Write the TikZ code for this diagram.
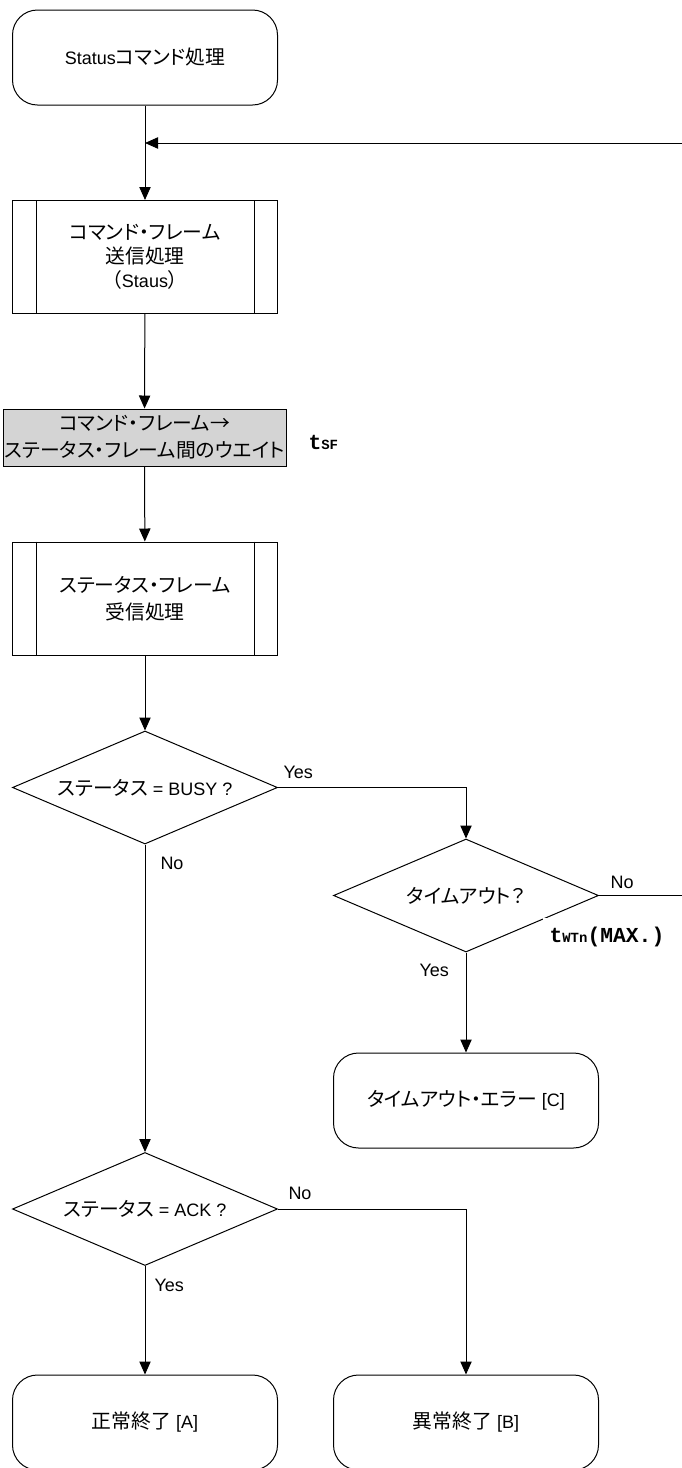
\documentclass[tikz,border=0pt]{standalone}
\usepackage{fontspec}
\setmainfont{Liberation Sans}
\newfontfamily\jp[RawFeature=+palt,Scale=1.1]{Noto Sans CJK JP}
\newfontfamily\mono{Liberation Mono}
\usetikzlibrary{shapes.geometric,arrows.meta}
\definecolor{waitgray}{RGB}{212,212,212}
% small index letters after a timing symbol
\newcommand\tidx[1]{{\fontsize{10.5}{10.5}\selectfont #1}}

\begin{document}
\begin{tikzpicture}[x=0.75pt,y=-0.75pt,
  font=\fontsize{13.5}{18}\selectfont,
  line width=0.75pt,
  flow/.style={-{Triangle[length=9.75pt,width=8.5pt]}},
  term/.style={draw, rounded corners=18.75pt, minimum width=198.75pt,
    minimum height=71.25pt, align=center, inner sep=0pt},
  proc/.style={draw, minimum width=198.75pt, minimum height=84.75pt,
    align=center, inner sep=0pt},
  waitbox/.style={draw, fill=waitgray, minimum width=212.25pt,
    minimum height=42.75pt, align=center, inner sep=0pt,
    font=\fontsize{13.5}{20}\selectfont},
  dec/.style={draw, diamond, aspect=2.35, minimum width=198.75pt,
    minimum height=84.75pt, inner sep=0pt},
  lbl/.style={inner sep=0pt, anchor=west},
  timing/.style={inner sep=0pt, anchor=west, font=\mono\bfseries\fontsize{16}{16}\selectfont}
]
\useasboundingbox (0,0) rectangle (682,1468);

% main column
\node[term] (start) at (145,57.5) {Status{\jp コマンド処理}};
\coordinate (merge) at (145,143);
\node[proc] (send) at (145,257) {{\jp コマンド・フレーム}\\{\jp 送信処理}\\{\jp （}Staus{\jp ）}};
\draw ([xshift=18pt]send.north west) -- ([xshift=18pt]send.south west);
\draw ([xshift=-18pt]send.north east) -- ([xshift=-18pt]send.south east);

\node[waitbox] (wait) at (144.5,437.5) {{\jp コマンド・フレーム→}\\{\jp ステータス・フレーム間のウエイト}};
\node[timing] (tsf) at (308,442) {t\tidx{SF}};

\node[proc, font=\fontsize{13.5}{20}\selectfont] (recv) at (145,598.5) {{\jp ステータス・フレーム}\\{\jp 受信処理}};
\draw ([xshift=18pt]recv.north west) -- ([xshift=18pt]recv.south west);
\draw ([xshift=-18pt]recv.north east) -- ([xshift=-18pt]recv.south east);

\node[dec] (busy) at (145,787.5) {{\jp ステータス} = BUSY ?};
\node[dec] (ack) at (145,1209) {{\jp ステータス} = ACK ?};

\node[term] (ok) at (145,1422.5) {{\jp 正常終了} [A]};

% right column
\node[dec] (tmo) at (466,895.5) {{\jp タイムアウト？}};
\node[term] (tmoerr) at (466,1100.5) {{\jp タイムアウト・エラー} [C]};
\node[term] (ng) at (466,1422.5) {{\jp 異常終了} [B]};

% return path leaves the page on the right
\coordinate (loopdn) at (692,895.5);
\coordinate (loopup) at (692,143);

% connectors
\draw[flow] (start) -- (send);
\draw[flow] (send) -- (wait);
\draw[flow] (wait) -- (recv);
\draw[flow] (recv) -- (busy);
\draw[flow] (busy.east) -| (tmo.north);
\draw[flow] (busy.south) -- (ack.north);
\draw[flow] (tmo.south) -- (tmoerr.north);
\draw[flow] (tmo.east) -- (loopdn) -- (loopup) -- (merge);
\draw[flow] (ack.south) -- (ok.north);
\draw[flow] (ack.east) -| (ng.north);

% branch labels
\node[lbl] at (283,772) {Yes};
\node[lbl] at (160,863) {No};
\node[lbl] at (610,882) {No};
\node[lbl] at (419,970) {Yes};
\node[lbl] at (288,1193) {No};
\node[lbl] at (154,1285) {Yes};

% maximum wait time
\node[timing, anchor=north west, fill=white, minimum height=28.5pt,
  inner xsep=5.25pt] (twtn) at (542,917) {t\tidx{WTn}(MAX.)};
\end{tikzpicture}
\end{document}
